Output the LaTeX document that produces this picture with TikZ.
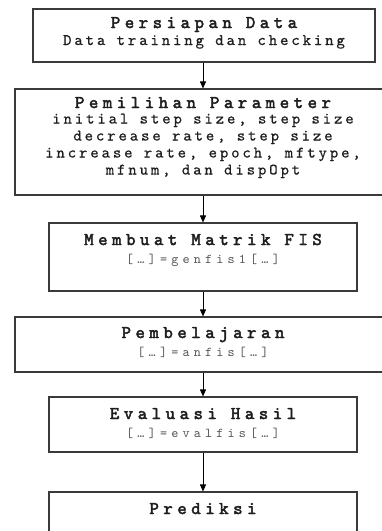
\documentclass[tikz,border=0pt]{standalone}
\usepackage{fontspec}
\usetikzlibrary{arrows.meta}

% Typewriter faces: bold-looking headings, spaced body text, smaller call lines
\newfontfamily\headfont{lmmono10-regular}[Extension=.otf, LetterSpace=25, FakeBold=2.5]
\newfontfamily\bodyfont{lmmono10-regular}[Extension=.otf, LetterSpace=18, FakeBold=0.6]
\newfontfamily\callfont{lmmono10-regular}[Extension=.otf, LetterSpace=31]

\definecolor{framegray}{HTML}{3A3A3A}
\definecolor{inkgray}{HTML}{1E1E1E}
\definecolor{callgray}{HTML}{555555}

\tikzset{
  box/.style={draw=framegray, line width=1.1pt, fill=white, inner sep=0pt},
  head/.style={anchor=base, inner sep=0pt, text=inkgray,
    font=\headfont\fontsize{18pt}{18pt}\selectfont},
  body/.style={anchor=base, inner sep=0pt, text=inkgray,
    font=\bodyfont\fontsize{16pt}{16pt}\selectfont},
  call/.style={anchor=base, inner sep=0pt, text=callgray,
    font=\callfont\fontsize{13.5pt}{13.5pt}\selectfont},
  flow/.style={-{Triangle[width=6pt,length=7pt]}, line width=0.9pt, draw=black}
}

\begin{document}
\begin{tikzpicture}[x=1pt, y=-1pt]
  \useasboundingbox (0,0) rectangle (382,531);
  \fill[white] (0,0) rectangle (382,531);
  \clip (0,0) rectangle (382,531);

  % process boxes
  \node[box, minimum width=342pt, minimum height=53pt]  (b1) at (204,35.5)  {};
  \node[box, minimum width=376pt, minimum height=106pt] (b2) at (203,142)   {};
  \node[box, minimum width=308pt, minimum height=68pt]  (b3) at (203,257)   {};
  \node[box, minimum width=376pt, minimum height=55pt]  (b4) at (203,344.5) {};
  \node[box, minimum width=308pt, minimum height=55pt]  (b5) at (203,424.5) {};
  \node[box, minimum width=308pt, minimum height=53pt]  (b6) at (203,518.5) {};

  % box texts
  \node[head] (t1) at (204,28) {Persiapan Data};
  \node[body] (s1) at (204,45) {Data training dan checking};

  \node[head] (t2) at (203,108) {Pemilihan Parameter};
  \node[body] (p1) at (203,123.5) {initial step size, step size};
  \node[body] (p2) at (203,140.5) {decrease rate, step size};
  \node[body] (p3) at (203,157.5) {increase rate, epoch, mftype,};
  \node[body] (p4) at (203,174.5) {mfnum, dan dispOpt};

  \node[head] (t3) at (203,245) {Membuat Matrik FIS};
  \node[call] (c3) at (203,263) {[…]=genfis1[…]};

  \node[head] (t4) at (203,338) {Pembelajaran};
  \node[call] (c4) at (203,356) {[…]=anfis[…]};

  \node[head] (t5) at (203,419) {Evaluasi Hasil};
  \node[call] (c5) at (203,437) {[…]=evalfis[…]};

  \node[head] (t6) at (203,514) {Prediksi};

  % flow arrows
  \draw[flow] (b1.south -| b2.north) -- (b2.north);
  \draw[flow] (b2.south) -- (b3.north);
  \draw[flow] (b3.south) -- (b4.north);
  \draw[flow] (b4.south) -- (b5.north);
  \draw[flow] (b5.south) -- (b6.north);
\end{tikzpicture}
\end{document}
